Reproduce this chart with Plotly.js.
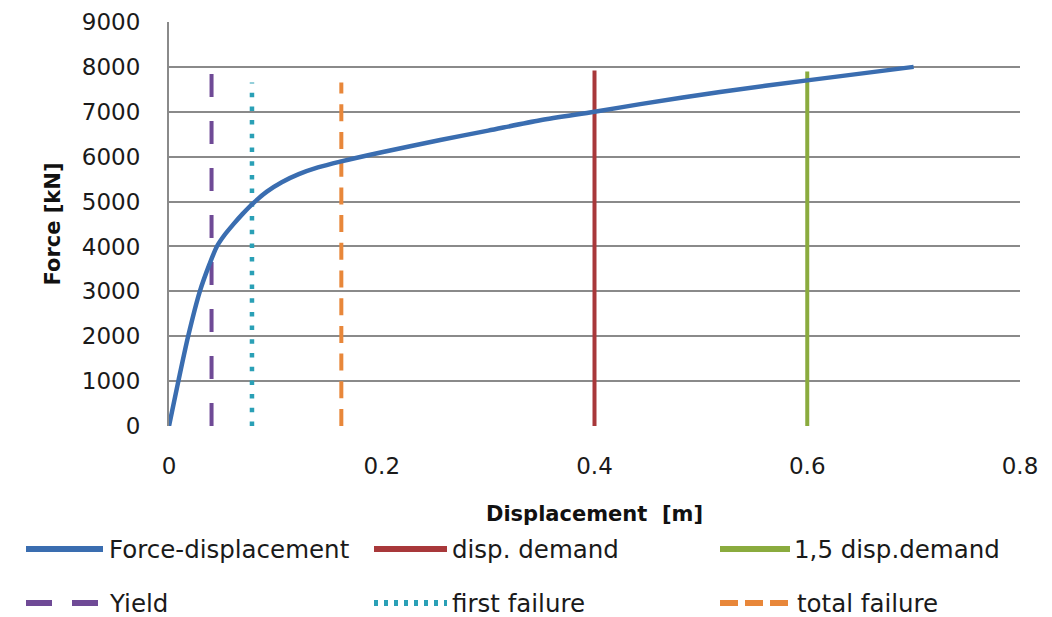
<!DOCTYPE html>
<html>
<head>
<meta charset="utf-8">
<script src="https://cdn.plot.ly/plotly-3.0.1.min.js"></script>
<style>html,body{margin:0;padding:0;background:#fff;}#chart{width:1052px;height:617px;}</style>
</head>
<body>
<div id="chart"></div>
<script>
// ---- data ----
const curveX = [0, 0.0088, 0.018, 0.029, 0.038, 0.045, 0.052, 0.06, 0.069, 0.079, 0.092, 0.106, 0.122, 0.14, 0.161, 0.2, 0.255, 0.3, 0.349, 0.4, 0.443, 0.518, 0.6, 0.7];
const curveY = [0, 1000, 2000, 3000, 3600, 4000, 4250, 4480, 4720, 4960, 5220, 5430, 5610, 5760, 5890, 6100, 6370, 6580, 6810, 7000, 7170, 7440, 7700, 8000];
const demandX = [0.4, 0.4];
const demandY = [0, 7920];
const demand15X = [0.6, 0.6];
const demand15Y = [0, 7900];
const yieldX = [0.04, 0.04];
const yieldY = [0, 7900];
const firstFailX = [0.078, 0.078];
const firstFailY = [0, 7650];
const totalFailX = [0.162, 0.162];
const totalFailY = [0, 7650];
const seriesNames = ["Force-displacement", "disp. demand", "1,5 disp.demand", "Yield", "first failure", "total failure"];
const xTitle = "Displacement  [m]";
const yTitle = "Force [kN]";

// ---- styles ----
const colors = ["#3a6db0", "#a8383a", "#8aab3e", "#6f4a96", "#2aa0b6", "#e8873a"];
const dashes = ["solid", "solid", "solid", "23px,24px", "4.5px,9.2px", "17px,10.7px"];
const legendDashes = ["solid", "solid", "solid", "26px,20px", "4px,6px", "18px,7px"];

const xs = [curveX, demandX, demand15X, yieldX, firstFailX, totalFailX];
const ys = [curveY, demandY, demand15Y, yieldY, firstFailY, totalFailY];
const order = [5, 4, 3, 2, 1, 0];
const traces = order.map(i => ({
  x: xs[i], y: ys[i], name: seriesNames[i], type: "scatter", mode: "lines",
  line: i === 0 ? {color: colors[i], width: 4.5, shape: "spline", smoothing: 0.8}
                : {color: colors[i], width: i === 4 ? 4.5 : 4, dash: dashes[i]},
  showlegend: false, hoverinfo: "x+y"
}));

// ---- layout geometry ----
const W = 1052, H = 617, L = 169, R = 1020, T = 22, B = 426;
const px = v => (v - L) / (R - L);
const py = v => (B - v) / (B - T);

const legendPos = [
  {x0: 26, x1: 103, tx: 107, y: 549},
  {x0: 374, x1: 447, tx: 450, y: 549},
  {x0: 720, x1: 790, tx: 792, y: 549},
  {x0: 26, x1: 103, tx: 107, y: 603},
  {x0: 374, x1: 447, tx: 450, y: 603},
  {x0: 720, x1: 790, tx: 795, y: 603}
];
const shapes = [];
const annotations = [];
legendPos.forEach((p, i) => {
  shapes.push({type: "line", xref: "paper", yref: "paper", x0: px(p.x0), x1: px(p.x1), y0: py(p.y), y1: py(p.y),
    line: {color: colors[i], width: 6, dash: legendDashes[i]}});
  annotations.push({xref: "paper", yref: "paper", x: px(p.tx), y: py(p.y), xanchor: "left", yanchor: "middle",
    text: seriesNames[i], showarrow: false, font: {family: "DejaVu Sans", size: 24.5, color: "#1a1a1a"}});
});

const layout = {
  width: W, height: H,
  margin: {l: L, r: W - R, t: T, b: H - B},
  paper_bgcolor: "#fff", plot_bgcolor: "#fff",
  showlegend: false,
  font: {family: "DejaVu Sans", color: "#1a1a1a"},
  xaxis: {
    range: [0, 0.8], dtick: 0.2, tick0: 0, showgrid: false, zeroline: false,
    showline: false, ticks: "", ticklabelstandoff: 24,
    tickfont: {family: "DejaVu Sans", size: 23, color: "#1a1a1a"},
    title: {text: xTitle, font: {family: "DejaVu Sans", size: 21, weight: "bold", color: "#111"}, standoff: 28}
  },
  yaxis: {
    range: [0, 9000], dtick: 1000, tick0: 0, showgrid: true, gridcolor: "#8a8a8a", gridwidth: 2,
    zeroline: false, showline: true, linecolor: "#8a8a8a", linewidth: 2, ticks: "", ticklabelstandoff: 22,
    tickfont: {family: "DejaVu Sans", size: 23, color: "#1a1a1a"},
    title: {text: yTitle, font: {family: "DejaVu Sans", size: 21, weight: "bold", color: "#111"}, standoff: 16}
  },
  shapes: shapes,
  annotations: annotations
};

Plotly.newPlot("chart", traces, layout, {displayModeBar: false, staticPlot: true});
</script>
</body>
</html>
